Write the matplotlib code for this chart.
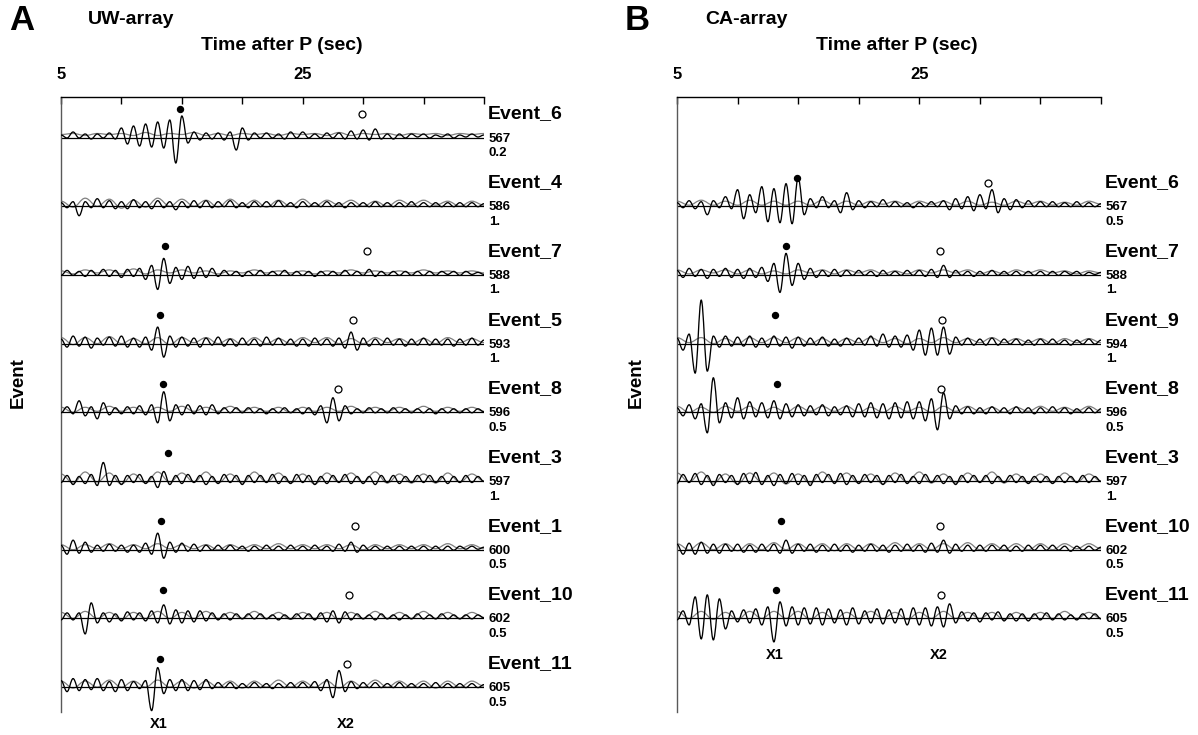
import numpy as np
import matplotlib
matplotlib.use("Agg")
import matplotlib.pyplot as plt
from matplotlib.path import Path
from matplotlib.patches import PathPatch

plt.rcParams['font.family'] = ['Liberation Sans', 'DejaVu Sans']
plt.rcParams['font.weight'] = 'bold'

# time axis of every trace (seconds after P)
T_START, T_END = 5.0, 40.0
MAIN_DT = 0.5     # spacing of the main-trace extrema
COMP_DT = 1.0     # spacing of the companion-trace extrema

# ---------------- Panel A : UW-array ----------------
uw_events = ["Event_6", "Event_4", "Event_7", "Event_5", "Event_8",
             "Event_3", "Event_1", "Event_10", "Event_11"]
uw_stations = ["567", "586", "588", "593", "596", "597", "600", "602", "605"]
uw_scales = ["0.2", "1.", "1.", "1.", "0.5", "1.", "0.5", "0.5", "0.5"]
uw_slots = [0, 1, 2, 3, 4, 5, 6, 7, 8]
uw_x1 = [14.85, None, 13.6, 13.2, 13.4, 13.85, 13.3, 13.4, 13.2]
uw_x2 = [29.9, None, 30.3, 29.2, 27.9, None, 29.3, 28.8, 28.7]

uw_main_6 = [1, -2, 4, -2, 2, -3, 2, -2, 3, -3,
             8, -8, 10, -10, 12, -11, 14, -12, 16, -27,
             20, -7, 4, -4, 3, -3, 3, -4, 4, -14,
             8, -4, 3, -2, 3, -2, 2, -3, 4, -2,
             4, -2, 2, -2, 3, -2, 3, -3, 5, -3,
             6, -4, 7, -3, 2, -3, 2, -2, 2, -1,
             2, -2, 1, -1, 2, -2, 1, -1, 2, -1, 1]
uw_main_4 = [2, -3, 3, -11, 3, -3, 6, -3, 4, -4,
             3, -4, 5, -3, 3, -4, 4, -3, 3, -5,
             3, -3, 4, -3, 4, -3, 3, -2, 4, -3,
             2, -3, 3, -2, 3, -2, 4, -2, 2, -3,
             3, -2, 2, -2, 3, -2, 2, -3, 2, -2,
             2, -2, 3, -2, 2, -2, 2, -2, 3, -2,
             2, -2, 2, -2, 2, -2, 2, -2, 2, -2, 1]
uw_main_7 = [-2, 3, -2, 2, -3, 3, -2, 4, -3, 3,
             -4, 4, -3, 5, -6, 8, -16, 15, -10, 6,
             -6, 7, -5, 6, -4, 5, -3, 3, -2, 2,
             -3, 2, -2, 3, -2, 2, -2, 3, -2, 2,
             -2, 2, -3, 2, -2, 2, -2, 3, -2, 2,
             -2, 4, -3, 2, -2, 2, -2, 2, -2, 2,
             -2, 2, -2, 2, -1, 2, -2, 2, -1, 1, -1]
uw_main_5 = [3, -5, 6, -4, 5, -6, 4, -3, 5, -4,
             6, -5, 4, -5, 5, -8, 15, -15, 6, -5,
             5, -4, 4, -5, 4, -3, 5, -4, 3, -4,
             4, -3, 3, -4, 5, -3, 4, -3, 3, -4,
             3, -4, 4, -3, 3, -4, 4, -6, 10, -8,
             4, -4, 3, -3, 4, -3, 3, -4, 3, -3,
             4, -3, 3, -3, 3, -4, 3, -3, 4, -3, 2]
uw_main_8 = [-2, 4, -3, 10, -5, 4, -8, 8, -4, 3,
             -3, 4, -3, 5, -4, 6, -12, 19, -10, 6,
             -4, 6, -3, 5, -4, 6, -3, 3, -2, 3,
             -2, 3, -2, 2, -3, 2, -2, 3, -2, 2,
             -3, 3, -4, 5, -12, 13, -10, 5, -3, 2,
             -2, 3, -2, 2, -2, 3, -2, 2, -2, 2,
             -2, 2, -3, 2, -2, 2, -2, 2, -2, 2, -1]
uw_main_3 = [-3, 4, -5, 3, -4, 5, -6, 17, -6, 4,
             -5, 4, -3, 5, -4, 3, -8, 8, -5, 4,
             -4, 5, -3, 4, -5, 3, -4, 5, -3, 4,
             -5, 4, -3, 4, -3, 5, -4, 3, -4, 5,
             -3, 4, -5, 3, -4, 4, -3, 5, -4, 3,
             -4, 3, -5, 4, -3, 4, -4, 3, -3, 4,
             -3, 4, -3, 3, -4, 3, -3, 4, -3, 3, -2]
uw_main_1 = [3, -6, 8, -5, 6, -4, 3, -3, 4, -3,
             3, -4, 3, -4, 5, -6, 15, -10, 6, -4,
             5, -3, 4, -3, 3, -2, 3, -2, 3, -2,
             2, -3, 2, -2, 3, -2, 2, -2, 3, -2,
             2, -2, 3, -2, 2, -3, 4, -3, 6, -4,
             3, -2, 2, -2, 2, -2, 2, -2, 2, -2,
             2, -2, 2, -2, 2, -2, 2, -1, 2, -1, 1]
uw_main_10 = [-3, 4, -3, 4, -17, 14, -6, 4, -5, 3,
              -4, 5, -3, 4, -4, 6, -6, 12, -7, 7,
              -6, 6, -5, 6, -4, 4, -3, 3, -3, 3,
              -2, 3, -2, 3, -2, 2, -3, 2, -2, 3,
              -2, 3, -3, 4, -5, 6, -6, 5, -3, 3,
              -2, 2, -3, 3, -2, 2, -3, 2, -2, 3,
              -2, 2, -2, 3, -2, 2, -2, 2, -2, 2, -1]
uw_main_11 = [5, -6, 7, -5, 6, -4, 7, -5, 4, -6,
              6, -5, 4, -3, 5, -25, 18, -8, 6, -5,
              6, -5, 5, -4, 6, -3, 3, -2, 3, -3,
              2, -2, 3, -2, 2, -3, 2, -2, 3, -2,
              3, -2, 4, -5, 6, -12, 15, -6, 4, -3,
              3, -2, 3, -2, 2, -2, 3, -2, 2, -2,
              2, -2, 3, -2, 2, -2, 2, -2, 2, -2, 1]

uw_comp_6 = [0, 1, -1, 1, 0, 1, -1, 2, -1, 1, 0, 2, -1, 1, -1, 1, 0, 1,
             -1, 1, 0, 1, -1, 2, -1, 1, 0, 1, -1, 1, 0, 1, -1, 1, 0, 1]
uw_comp_4 = [2, -4, 5, -3, 4, -5, 3, -4, 5, -3, 4, -3, 3, -4, 4, -3, 3, -4,
             3, -3, 4, -3, 3, -2, 3, -3, 2, -3, 3, -2, 3, -2, 2, -3, 2, -2]
uw_comp_7 = [1, -2, 2, -1, 2, -2, 3, -2, 2, -1, 2, -1, 1, -2, 1, -1, 2, -1,
             1, -1, 1, -2, 1, -1, 2, -1, 1, -1, 1, -1, 2, -1, 1, -1, 1, -1]
uw_comp_5 = [3, -4, 3, -3, 4, -3, 2, -3, 3, -4, 3, -2, 3, -3, 2, -4, 3, -3,
             2, -3, 3, -2, 3, -3, 2, -3, 3, -2, 2, -3, 2, -3, 3, -2, 2, -2]
uw_comp_8 = [2, -3, 2, -2, 3, -2, 2, -3, 2, -2, 3, -2, 2, -2, 3, -2, 2, -2,
             2, -3, 2, -2, 2, -2, 3, -2, 2, -2, 2, -2, 3, -2, 2, -2, 2, -2]
uw_comp_3 = [4, -5, 6, -4, 5, -6, 4, -5, 6, -4, 5, -4, 6, -5, 4, -5, 6, -4,
             5, -5, 4, -6, 5, -4, 5, -4, 6, -5, 4, -5, 4, -5, 5, -4, 4, -3]
uw_comp_1 = [2, -3, 2, -2, 3, -2, 2, -2, 3, -2, 2, -2, 2, -3, 2, -2, 2, -2,
             3, -2, 2, -2, 2, -2, 2, -3, 2, -2, 2, -2, 2, -2, 3, -2, 2, -2]
uw_comp_10 = [3, -3, 4, -3, 3, -4, 3, -3, 4, -3, 3, -3, 4, -3, 3, -3, 4, -3,
              3, -4, 3, -3, 3, -4, 3, -3, 4, -3, 3, -3, 4, -3, 3, -3, 3, -2]
uw_comp_11 = [3, -4, 3, -3, 4, -3, 3, -3, 4, -3, 3, -4, 3, -3, 3, -4, 3, -3,
              4, -3, 3, -3, 3, -4, 3, -3, 4, -3, 3, -3, 3, -4, 3, -3, 3, -2]

# ---------------- Panel B : CA-array ----------------
ca_events = ["Event_6", "Event_7", "Event_9", "Event_8",
             "Event_3", "Event_10", "Event_11"]
ca_stations = ["567", "588", "594", "596", "597", "602", "605"]
ca_scales = ["0.5", "1.", "1.", "0.5", "1.", "0.5", "0.5"]
ca_slots = [1, 2, 3, 4, 5, 6, 7]
ca_x1 = [14.9, 14.0, 13.1, 13.25, None, 13.6, 13.2]
ca_x2 = [30.7, 26.7, 26.9, 26.8, None, 26.7, 26.8]

ca_main_6 = [2, -3, 4, -4, 3, -10, 4, -3, 8, -4,
             15, -14, 10, -8, 18, -17, 16, -18, 21, -19,
             27, -10, 6, -3, 8, -3, 4, -8, 12, -5,
             4, -3, 3, -2, 5, -2, 3, -2, 2, -3,
             2, -2, 3, -2, 4, -5, 6, -4, 8, -6,
             10, -4, 15, -8, 6, -5, 5, -3, 4, -2,
             3, -2, 3, -2, 2, -2, 3, -2, 2, -2, 1]
ca_main_7 = [3, -4, 5, -3, 4, -5, 4, -3, 5, -4,
             4, -5, 5, -4, 6, -8, 10, -19, 20, -12,
             10, -6, 5, -4, 3, -3, 4, -3, 3, -2,
             3, -2, 2, -3, 3, -2, 2, -2, 3, -2,
             3, -3, 4, -4, 8, -4, 3, -2, 2, -3,
             2, -2, 3, -2, 2, -2, 2, -2, 2, -2,
             2, -2, 2, -2, 2, -1, 2, -2, 1, -1, 1]
ca_main_9 = [4, -8, 8, -31, 42, -29, 6, -5, 6, -4,
             5, -4, 6, -5, 4, -5, 6, -4, 5, -6,
             5, -4, 4, -3, 5, -4, 3, -4, 4, -3,
             4, -3, 6, -4, 8, -5, 6, -5, 7, -8,
             12, -13, 14, -13, 15, -12, 5, -3, 4, -3,
             3, -3, 4, -3, 3, -2, 3, -3, 2, -3,
             3, -2, 3, -2, 2, -3, 2, -2, 3, -2, 2]
ca_main_8 = [3, -5, 6, -8, 7, -22, 33, -12, 8, -7,
             13, -8, 9, -6, 8, -7, 10, -8, 7, -6,
             6, -5, 5, -4, 6, -5, 4, -4, 5, -6,
             7, -6, 8, -7, 7, -8, 8, -7, 9, -8,
             9, -10, 12, -19, 18, -8, 5, -3, 4, -3,
             3, -3, 4, -2, 3, -3, 4, -2, 3, -3,
             3, -2, 4, -2, 3, -3, 2, -2, 3, -2, 2]
ca_main_3 = [-4, 5, -3, 6, -5, 4, -6, 5, -3, 4,
             -5, 6, -4, 7, -5, 4, -6, 5, -4, 6,
             -5, 4, -6, 5, -3, 5, -4, 6, -5, 4,
             -4, 5, -3, 4, -5, 4, -3, 5, -4, 3,
             -4, 5, -3, 4, -4, 3, -5, 4, -3, 4,
             -3, 4, -4, 3, -3, 4, -3, 3, -4, 3,
             -3, 3, -4, 3, -3, 3, -3, 4, -3, 3, -2]
ca_main_10 = [4, -6, 5, -6, 6, -5, 4, -5, 4, -3,
              4, -4, 3, -4, 4, -3, 4, -5, 8, -5,
              4, -3, 4, -4, 3, -3, 4, -3, 3, -4,
              3, -3, 4, -3, 3, -4, 3, -3, 4, -3,
              3, -4, 5, -4, 8, -5, 4, -3, 3, -3,
              3, -3, 3, -2, 3, -3, 2, -3, 3, -2,
              3, -2, 3, -2, 2, -3, 2, -2, 2, -2, 1]
ca_main_11 = [-3, 6, -8, 20, -22, 22, -23, 18, -12, 6,
              -5, 7, -6, 8, -8, 10, -25, 15, -9, 10,
              -8, 9, -7, 9, -8, 8, -6, 7, -8, 9,
              -7, 6, -6, 8, -7, 7, -6, 8, -8, 9,
              -8, 9, -9, 10, -10, 13, -6, 5, -4, 4,
              -5, 4, -3, 5, -4, 3, -4, 3, -4, 3,
              -3, 4, -3, 3, -3, 2, -3, 3, -2, 3, -2]

ca_comp_6 = [2, -2, 3, -2, 2, -2, 3, -2, 2, -2, 2, -2, 3, -2, 2, -2, 2, -1,
             2, -2, 2, -1, 2, -2, 2, -2, 1, -2, 2, -1, 2, -2, 1, -2, 2, -1]
ca_comp_7 = [2, -2, 2, -1, 2, -2, 2, -2, 1, -2, 2, -1, 2, -2, 2, -1, 2, -2,
             1, -2, 2, -1, 2, -1, 2, -2, 1, -2, 2, -1, 2, -1, 1, -2, 1, -1]
ca_comp_9 = [3, -2, 3, -3, 2, -3, 3, -2, 3, -2, 3, -3, 2, -3, 2, -2, 3, -2,
             2, -3, 2, -2, 3, -2, 2, -2, 3, -2, 2, -2, 2, -3, 2, -2, 2, -2]
ca_comp_8 = [3, -3, 2, -3, 3, -2, 3, -3, 2, -3, 3, -2, 3, -2, 3, -3, 2, -3,
             3, -2, 2, -3, 3, -2, 3, -2, 2, -3, 2, -2, 3, -2, 2, -2, 3, -2]
ca_comp_3 = [5, -4, 6, -5, 4, -6, 5, -4, 5, -6, 4, -5, 6, -4, 5, -5, 4, -6,
             5, -4, 6, -5, 4, -5, 5, -4, 6, -5, 4, -5, 4, -5, 5, -4, 4, -3]
ca_comp_10 = [3, -3, 4, -3, 3, -4, 3, -3, 4, -3, 3, -3, 3, -4, 3, -3, 3, -3,
              4, -3, 3, -3, 3, -3, 4, -3, 3, -3, 3, -3, 3, -3, 3, -2, 3, -2]
ca_comp_11 = [4, -3, 4, -4, 3, -4, 4, -3, 4, -3, 4, -4, 3, -4, 3, -3, 4, -3,
              3, -4, 3, -3, 4, -3, 3, -3, 3, -4, 3, -3, 3, -3, 4, -3, 3, -3]

uw_mains = [uw_main_6, uw_main_4, uw_main_7, uw_main_5, uw_main_8,
            uw_main_3, uw_main_1, uw_main_10, uw_main_11]
uw_comps = [uw_comp_6, uw_comp_4, uw_comp_7, uw_comp_5, uw_comp_8,
            uw_comp_3, uw_comp_1, uw_comp_10, uw_comp_11]
ca_mains = [ca_main_6, ca_main_7, ca_main_9, ca_main_8,
            ca_main_3, ca_main_10, ca_main_11]
ca_comps = [ca_comp_6, ca_comp_7, ca_comp_9, ca_comp_8,
            ca_comp_3, ca_comp_10, ca_comp_11]

tick_values = [5, 10, 15, 20, 25, 30, 35, 40]
tick_labels = ["5", "", "", "", "25", "", "", ""]

# ---------------- layout ----------------
W, H = 1198, 735
ROW = 68.7                   # pixel spacing between event rows
GAIN = 1.0 / ROW             # trace amplitude (pixels) -> row units
FIRST_ROW_PX = 136
AX_TOP_PX, AX_BOT_PX = 97, 712

fig = plt.figure(figsize=(W / 100, H / 100), dpi=100)


def make_axes(left_px, right_px):
    ax = fig.add_axes([left_px / W, 1 - AX_BOT_PX / H,
                       (right_px - left_px) / W, (AX_BOT_PX - AX_TOP_PX) / H])
    ax.set_xlim(T_START, T_END)
    ax.set_ylim((AX_BOT_PX - FIRST_ROW_PX) / ROW, (AX_TOP_PX - FIRST_ROW_PX) / ROW)
    for side in ("right", "bottom"):
        ax.spines[side].set_visible(False)
    for side in ("left", "top"):
        ax.spines[side].set_linewidth(1.0)
    ax.spines["left"].set_color("0.35")
    ax.xaxis.tick_top()
    ax.set_xticks(tick_values)
    ax.set_xticklabels(tick_labels)
    ax.tick_params(axis="x", direction="in", length=5, width=1.0,
                   pad=11, labelsize=12)
    ax.set_yticks([])
    ax.patch.set_alpha(0)
    return ax


def wiggle(ax, t, y, **style):
    """Smooth trace through successive extrema: cubic segments with flat
    tangents at every peak and trough."""
    verts = [(t[0], y[0])]
    codes = [Path.MOVETO]
    for i in range(len(t) - 1):
        h = (t[i + 1] - t[i]) * 0.38
        verts += [(t[i] + h, y[i]), (t[i + 1] - h, y[i + 1]), (t[i + 1], y[i + 1])]
        codes += [Path.CURVE4] * 3
    ax.add_patch(PathPatch(Path(verts, codes), fill=False, **style))


def draw_panel(ax, events, stations, scales, slots, x1, x2, mains, comps):
    for ev, st, sc, row, p1, p2, main, comp in zip(events, stations, scales, slots,
                                                  x1, x2, mains, comps):
        amp = np.asarray(main, dtype=float)
        t = T_START + MAIN_DT * np.arange(len(amp))
        camp = np.asarray(comp, dtype=float)
        tc = T_START + COMP_DT * np.arange(len(camp))
        # reference line, companion trace and the main trace
        ax.plot([T_START, T_END], [row + 1.5 * GAIN] * 2, color="black",
                lw=0.9, zorder=2)
        wiggle(ax, tc, row - (camp + 1.5) * GAIN, edgecolor="0.5", lw=0.9,
               zorder=1)
        wiggle(ax, t, row - amp * GAIN, edgecolor="black", lw=0.95, zorder=3)
        if p1 is not None:
            ax.plot([p1], [row - 27 * GAIN], "o", ms=4.3, color="black",
                    clip_on=False, zorder=4)
        if p2 is not None:
            ax.plot([p2], [row - 22 * GAIN], "o", ms=5.0, mfc="white",
                    mec="black", mew=0.9, clip_on=False, zorder=4)
        ax.text(T_END + 0.35, row - 22 * GAIN, ev, fontsize=14,
                ha="left", va="center", clip_on=False)
        ax.text(T_END + 0.4, row + 2.5 * GAIN, st, fontsize=9.5,
                ha="left", va="center", clip_on=False)
        ax.text(T_END + 0.4, row + 17 * GAIN, sc, fontsize=9.5,
                ha="left", va="center", clip_on=False)
    last = slots[-1]
    ax.text(x1[-1] - 0.15, last + 38 * GAIN, "X1", fontsize=10.5,
            ha="center", va="center")
    ax.text(x2[-1] - 0.15, last + 38 * GAIN, "X2", fontsize=10.5,
            ha="center", va="center")


ax_a = make_axes(61, 484)
draw_panel(ax_a, uw_events, uw_stations, uw_scales, uw_slots,
           uw_x1, uw_x2, uw_mains, uw_comps)
ax_b = make_axes(677, 1101)
draw_panel(ax_b, ca_events, ca_stations, ca_scales, ca_slots,
           ca_x1, ca_x2, ca_mains, ca_comps)

# panel letters, titles and axis captions
fig.text(9 / W, 1 - 20 / H, "A", fontsize=25, ha="left", va="center")
fig.text(88 / W, 1 - 20 / H, "UW-array", fontsize=14, ha="left", va="center")
fig.text(625 / W, 1 - 20 / H, "B", fontsize=25, ha="left", va="center")
fig.text(705 / W, 1 - 20 / H, "CA-array", fontsize=14, ha="left", va="center")
fig.text(282 / W, 1 - 46 / H, "Time after P (sec)", fontsize=14,
         ha="center", va="center")
fig.text(897 / W, 1 - 46 / H, "Time after P (sec)", fontsize=14,
         ha="center", va="center")
fig.text(18 / W, 1 - 383 / H, "Event", fontsize=13.5, rotation=90,
         ha="center", va="center")
fig.text(636 / W, 1 - 383 / H, "Event", fontsize=13.5, rotation=90,
         ha="center", va="center")

fig.savefig("out.png", dpi=100)
